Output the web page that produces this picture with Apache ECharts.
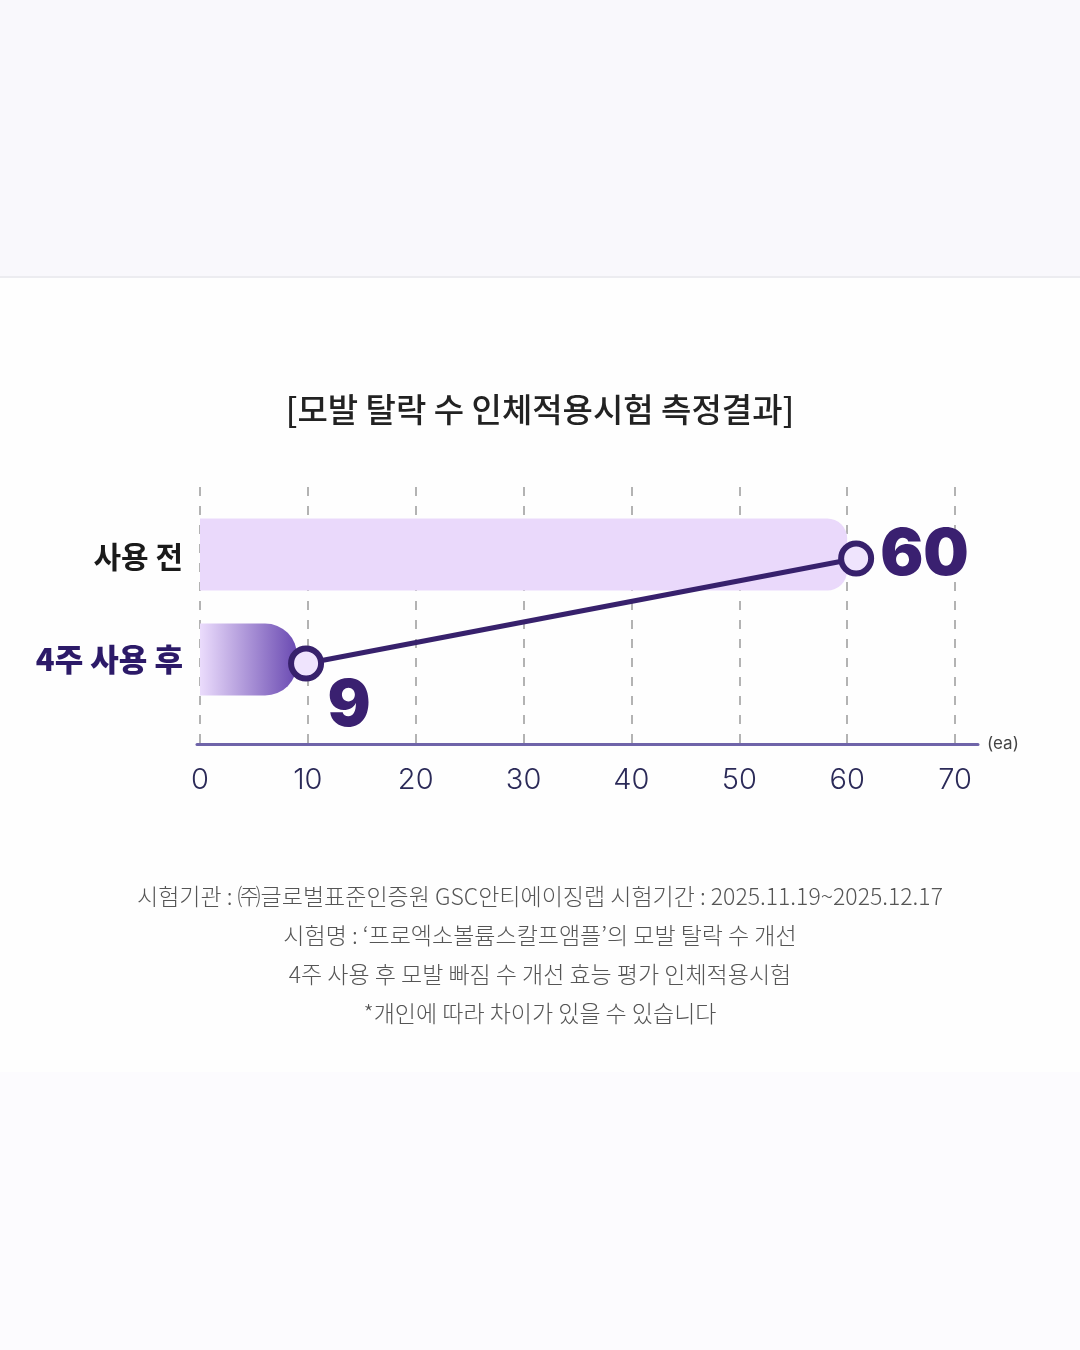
<!DOCTYPE html>
<html>
<head>
<meta charset="utf-8">
<script src="https://cdn.jsdelivr.net/npm/echarts@6/dist/echarts.min.js"></script>
<style>
    html, body { margin: 0; padding: 0; background: #fefefe; }
    #chart { width: 1080px; height: 1350px; }
</style>
</head>
<body>
<div id="chart"></div>
<script>
// 데이터
var categories = ['사용 전', '4주 사용 후'];
var hairLoss = [60, 9];
var xMin = 0, xMax = 70, xStep = 10;
var unitName = '(ea)';
var chartTitle = '[모발 탈락 수 인체적용시험 측정결과]';
var notes = [
    '시험기관 : ㈜글로벌표준인증원 GSC안티에이징랩 시험기간 : 2025.11.19~2025.12.17',
    '시험명 : \u2018프로엑소볼륨스칼프앰플\u2019의 모발 탈락 수 개선',
    '4주 사용 후 모발 빠짐 수 개선 효능 평가 인체적용시험',
    '*개인에 따라 차이가 있을 수 있습니다'
];

var KR = '"Noto Sans CJK KR", "Noto Sans", sans-serif';
var myChart = echarts.init(document.getElementById('chart'));

// 막대 스타일
var barStyles = [
    { color: '#ead9fb', borderRadius: [0, 20, 20, 0] },
    {
        color: new echarts.graphic.LinearGradient(0, 0, 1, 0, [
            { offset: 0, color: '#ebdcfc' },
            { offset: 1, color: '#6a4ab2' }
        ]),
        borderRadius: [0, 32, 32, 0]
    }
];

var barData = hairLoss.map(function (v, i) {
    return { value: v, itemStyle: barStyles[i] };
});

var bigNum = {
    fontSize: 64,
    fontWeight: 900,
    fontFamily: 'Inter, Lato, Roboto, sans-serif',
    color: '#3a2070'
};

var lineData = hairLoss.map(function (v, i) {
    var label = i === 0
        ? Object.assign({ show: true, position: 'right', distance: 6, offset: [0, -3] }, bigNum)
        : Object.assign({ show: true, position: [61, 61], align: 'center', verticalAlign: 'middle' }, bigNum);
    return { value: [v, categories[i]], label: label };
});

var option = {
    animation: false,
    backgroundColor: '#fefefe',
    title: {
        text: chartTitle,
        left: 'center',
        top: 388,
        textStyle: { fontFamily: KR, fontSize: 33, fontWeight: 500, color: '#222' }
    },
    graphic: [
        { type: 'rect', z: -10, silent: true, shape: { x: 0, y: 0, width: 1080, height: 276 }, style: { fill: '#f9f8fc' } },
        { type: 'rect', z: -10, silent: true, shape: { x: 0, y: 276, width: 1080, height: 2 }, style: { fill: '#ececf0' } },
        { type: 'rect', z: -10, silent: true, shape: { x: 0, y: 1072, width: 1080, height: 278 }, style: { fill: '#fcfbfe' } },
        {
            type: 'text',
            left: 'center',
            top: 877,
            style: {
                text: notes.join('\n'),
                textAlign: 'center',
                fontFamily: KR,
                fontSize: 23,
                lineHeight: 39,
                fontWeight: 300,
                fill: '#555'
            }
        }
    ],
    grid: [
        { left: 200, right: 125, top: 487, height: 257 },   // 점선 + 눈금
        { left: 200, right: 125, top: 502, height: 210 },   // 막대
        { left: 197, right: 102, top: 487, height: 257 },   // 축선
        { left: 209, right: 116, top: 506, height: 210 }    // 연결선
    ],
    xAxis: [
        {
            gridIndex: 0, type: 'value', min: xMin, max: xMax, interval: xStep,
            axisLine: { show: false },
            axisTick: { show: false },
            axisLabel: { margin: 22, fontSize: 29, color: '#2b2a58', fontFamily: 'Inter, "Noto Sans", sans-serif', fontWeight: 300 },
            splitLine: { show: true, lineStyle: { type: [9, 10], color: '#9a9a9a', width: 1.5 } }
        },
        { gridIndex: 1, type: 'value', min: xMin, max: xMax, show: false },
        {
            gridIndex: 2, type: 'value', min: 0, max: 1,
            axisLine: { show: true, lineStyle: { color: '#6f64a9', width: 3 } },
            axisTick: { show: false },
            axisLabel: { show: false },
            splitLine: { show: false },
            name: unitName,
            nameLocation: 'end',
            nameGap: 9,
            nameTextStyle: { fontSize: 17, color: '#444', verticalAlign: 'middle', fontFamily: 'Inter, sans-serif' }
        },
        { gridIndex: 3, type: 'value', min: xMin, max: xMax, show: false }
    ],
    yAxis: [
        { gridIndex: 0, type: 'value', show: false },
        {
            gridIndex: 1, type: 'category', inverse: true, data: categories,
            axisLine: { show: false },
            axisTick: { show: false },
            axisLabel: {
                margin: 17,
                formatter: function (v) {
                    return v === categories[0] ? '{a|' + v + '}' : '{b|' + v + '}';
                },
                rich: {
                    a: { fontFamily: KR, fontSize: 30, fontWeight: 'bold', color: '#1a1a1a', padding: [5, 0, 0, 0] },
                    b: { fontFamily: KR, fontSize: 31, fontWeight: 900, color: '#2c1a68' }
                }
            }
        },
        { gridIndex: 2, type: 'value', show: false },
        { gridIndex: 3, type: 'category', inverse: true, data: categories, show: false }
    ],
    series: [
        {
            name: '모발 탈락 수',
            type: 'bar',
            xAxisIndex: 1,
            yAxisIndex: 1,
            barWidth: 72,
            data: barData
        },
        {
            name: '변화',
            type: 'line',
            xAxisIndex: 3,
            yAxisIndex: 3,
            z: 5,
            symbol: 'circle',
            symbolSize: 30,
            itemStyle: { color: '#efe4fd', borderColor: '#37216c', borderWidth: 6 },
            lineStyle: { color: '#37216c', width: 5 },
            data: lineData
        }
    ]
};

myChart.setOption(option);
</script>
</body>
</html>
